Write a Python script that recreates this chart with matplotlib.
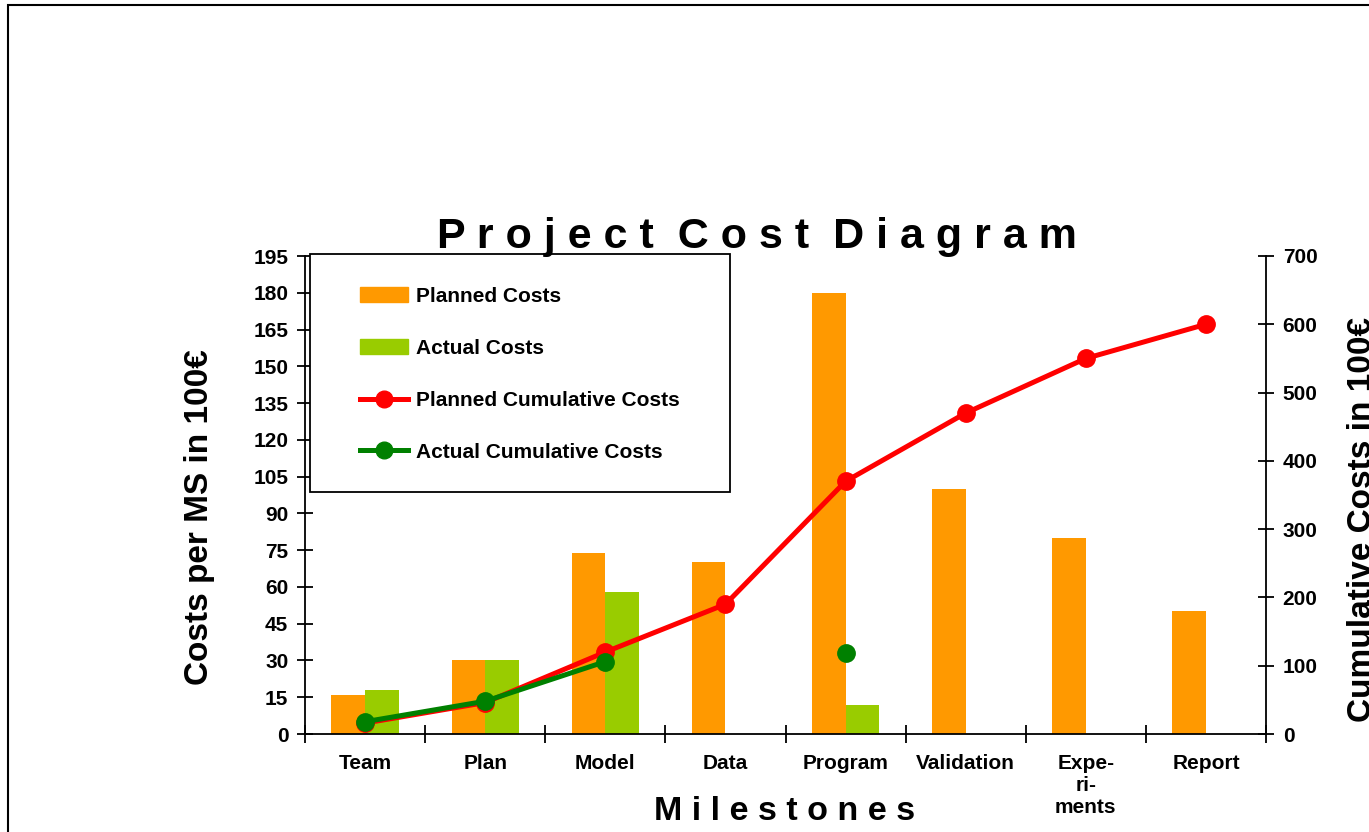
import numpy as np
import matplotlib.pyplot as plt
from matplotlib.lines import Line2D
from matplotlib.patches import Patch, Rectangle

plt.rcParams['font.family'] = ['Liberation Sans', 'DejaVu Sans']
plt.rcParams['font.weight'] = 'bold'

milestones = ["Team", "Plan", "Model", "Data", "Program", "Validation", "Expe-\nri-\nments", "Report"]
planned = [16, 30, 74, 70, 180, 100, 80, 50]
actual = [18, 30, 58, np.nan, 12, np.nan, np.nan, np.nan]
planned_cum = [16, 46, 120, 190, 370, 470, 550, 600]
actual_cum = [18, 48, 106, np.nan, 118, np.nan, np.nan, np.nan]

orange = "#ff9900"
lime = "#99cc00"
red = "#ff0000"
green = "#008000"

fig = plt.figure(figsize=(13.69, 8.32), dpi=100)
ax = fig.add_axes([305 / 1369, 98 / 832, 961 / 1369, 478 / 832])
ax2 = ax.twinx()

x = np.arange(len(milestones))
w = 0.28
ax.bar(x - w / 2, planned, w, color=orange)
ax.bar(x + w / 2, actual, w, color=lime)

ax2.plot(x, planned_cum, color=red, lw=3.6, marker="o", ms=12.5)
ax2.plot(x, actual_cum, color=green, lw=3.6, marker="o", ms=12.5)

ax.set_xlim(-0.5, len(milestones) - 0.5)
ax.set_ylim(0, 195)
ax.set_yticks(np.arange(0, 196, 15))
ax2.set_ylim(0, 700)
ax2.set_yticks(np.arange(0, 701, 100))

# boundaries as major ticks, names on minor ticks
ax.set_xticks(np.arange(-0.5, len(milestones), 1))
ax.set_xticklabels([])
ax.set_xticks(x, milestones, minor=True)
ax.tick_params(axis="x", which="major", direction="inout", length=13, width=1.3)
ax.tick_params(axis="x", which="minor", length=0, pad=14.5, labelsize=15)
ax.tick_params(axis="y", direction="inout", length=12, width=1.3, pad=6, labelsize=15)
ax2.tick_params(axis="y", direction="inout", length=12, width=1.3, pad=6, labelsize=15)

for a in (ax, ax2):
    a.spines["top"].set_visible(False)
    for s in ("left", "right", "bottom"):
        a.spines[s].set_linewidth(1.3)
ax.spines["right"].set_visible(False)
ax2.spines["left"].set_visible(False)
ax2.spines["bottom"].set_visible(False)

fig.text(757 / 1369, 1 - 248 / 832, "P r o j e c t  C o s t  D i a g r a m",
         ha="center", va="baseline", fontsize=31, fontweight="bold")
fig.text(785 / 1369, 1 - 820 / 832, "M i l e s t o n e s",
         ha="center", va="baseline", fontsize=24.5, fontweight="bold")
fig.text(199 / 1369, 1 - 517 / 832, "Costs per MS in 100€", rotation=90,
         ha="center", va="center", fontsize=24, fontweight="bold")
fig.text(1347 / 1369, 1 - 520 / 832, "Cumulative Costs in 100€", rotation=90,
         ha="left", va="center", fontsize=24, fontweight="bold")

# legend box
ax2.add_patch(Rectangle((5 / 961, 242 / 478), 420 / 961, 238 / 478, transform=ax2.transAxes,
                        facecolor="white", edgecolor="black", lw=1.3, clip_on=False, zorder=5))
handles = [Patch(color=orange, label="Planned Costs"),
           Patch(color=lime, label="Actual Costs"),
           Line2D([], [], color=red, lw=3.6, marker="o", ms=12, label="Planned Cumulative Costs"),
           Line2D([], [], color=green, lw=3.6, marker="o", ms=12, label="Actual Cumulative Costs")]
leg = ax2.legend(handles=handles, loc="upper left", bbox_to_anchor=(55 / 961, (734 - 287) / 478),
                 frameon=False, borderpad=0, borderaxespad=0, fontsize=15, labelspacing=1.58,
                 handlelength=2.3, handletextpad=0.38)
leg.set_zorder(6)

fig.add_artist(Rectangle((8 / 1369, -0.1), 1.2, 1.1 - 5 / 832, transform=fig.transFigure,
                         fill=False, edgecolor="black", lw=1.5))

fig.savefig("out.png", dpi=100)
